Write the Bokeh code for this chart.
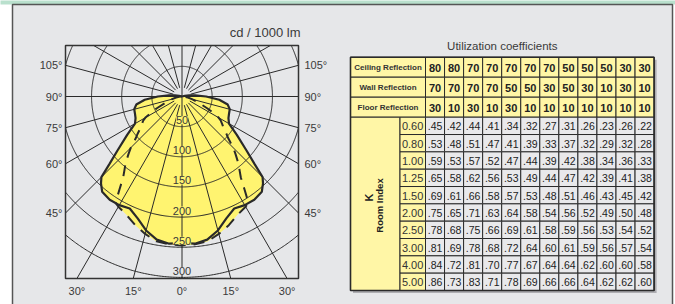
import numpy as np
from bokeh.plotting import figure
from bokeh.models import Range1d
from bokeh.core.properties import value
from bokeh.embed import file_html
from bokeh.resources import INLINE

# ---------------- data ----------------
intensity_ticks = [50, 100, 150, 200, 250, 300]
side_angle_labels = ["105°", "90°", "75°", "60°", "45°"]
side_angles = [105, 90, 75, 60, 45]
bottom_angle_labels = ["30°", "15°", "0°", "15°", "30°"]
bottom_angles = [-30, -15, 0, 15, 30]

# solid curve (plane A), angle from nadir in degrees -> cd/1000 lm
curve_a_angles = [0, 5, 10, 15, 20, 25, 30, 35, 40, 43, 45, 47, 50, 55, 60, 65, 70, 75, 80, 85, 90, 95, 100, 105, 110]
curve_a_cd = [243, 245, 241, 230, 215, 205, 208, 209, 206, 197, 189, 165, 140, 111, 90, 85, 83, 82, 77, 62, 40, 22, 12, 5, 0]
# dashed curve (plane B)
curve_b_angles = [0, 5, 10, 15, 20, 25, 30, 32, 34, 36, 38, 40, 43, 45, 48, 50, 53, 55, 58, 60, 63, 65, 70, 75, 80, 90, 95]
curve_b_cd = [247, 246, 244, 236, 227, 217, 211, 208, 185, 166, 155, 146, 130, 120, 103, 96, 86, 82, 76, 70, 55, 46, 28, 18, 10, 3, 0]

table_title = "Utilization coefficients"
header_labels = ["Ceiling Reflection", "Wall Reflection", "Floor Reflection"]
ceiling = [80, 80, 70, 70, 70, 70, 70, 50, 50, 50, 30, 30]
wall = [70, 70, 70, 70, 50, 50, 30, 50, 30, 10, 30, 10]
floor_ = [30, 10, 30, 10, 30, 10, 10, 10, 10, 10, 10, 10]
room_index = ["0.60", "0.80", "1.00", "1.25", "1.50", "2.00", "2.50", "3.00", "4.00", "5.00"]
coef_060 = [.45, .42, .44, .41, .34, .32, .27, .31, .26, .23, .26, .22]
coef_080 = [.53, .48, .51, .47, .41, .39, .33, .37, .32, .29, .32, .28]
coef_100 = [.59, .53, .57, .52, .47, .44, .39, .42, .38, .34, .36, .33]
coef_125 = [.65, .58, .62, .56, .53, .49, .44, .47, .42, .39, .41, .38]
coef_150 = [.69, .61, .66, .58, .57, .53, .48, .51, .46, .43, .45, .42]
coef_200 = [.75, .65, .71, .63, .64, .58, .54, .56, .52, .49, .50, .48]
coef_250 = [.78, .68, .75, .66, .69, .61, .58, .59, .56, .53, .54, .52]
coef_300 = [.81, .69, .78, .68, .72, .64, .60, .61, .59, .56, .57, .54]
coef_400 = [.84, .72, .81, .70, .77, .67, .64, .64, .62, .60, .60, .58]
coef_500 = [.86, .73, .83, .71, .78, .69, .66, .66, .64, .62, .62, .60]
coef_rows = [coef_060, coef_080, coef_100, coef_125, coef_150,
             coef_200, coef_250, coef_300, coef_400, coef_500]

# ---------------- style / layout ----------------
FONT = value("Liberation Sans")
DARK = "#2a2a2a"
TXT = "#3a3a3a"
PANEL = "#e6e7e9"
YEL_FILL = "#fff470"
YEL_CELL = "#fff6a6"
CELL = "#e9e9eb"

CX, CY, S = 181.5, 96.0, 0.603
BX0, BX1, BY0, BY1 = 65.0, 298.0, 45.0, 278.0

p = figure(width=675, height=304, x_range=Range1d(0, 675), y_range=Range1d(304, 0),
           output_backend="svg", toolbar_location=None, x_axis_type=None, y_axis_type=None,
           min_border=0, outline_line_color=None,
           background_fill_color="white", border_fill_color="white")
for g in p.grid:
    g.visible = False

# top strip and panel
p.quad(left=[-5], right=[680], top=[-5], bottom=[4], fill_color="#b9e0cd", line_color=None)
p.quad(left=[12], right=[672], top=[4], bottom=[320], fill_color=PANEL,
       line_color="#555555", line_width=1.5)


def polar_xy(angles, cds):
    a = np.radians(np.asarray(angles, float))
    r = np.asarray(cds, float) * S
    xl = CX - r * np.sin(a)
    yl = CY + r * np.cos(a)
    xr = CX + r * np.sin(a)
    yr = CY + r * np.cos(a)
    xs = np.concatenate([xl[::-1], xr[1:]])
    ys = np.concatenate([yl[::-1], yr[1:]])
    return xs, ys


ax, ay = polar_xy(curve_a_angles, curve_a_cd)
bx, by = polar_xy(curve_b_angles, curve_b_cd)
p.patch(bx, by, fill_color=YEL_FILL, line_color=None)
p.patch(ax, ay, fill_color=YEL_FILL, line_color=None)

# grid circles clipped to box
phi = np.radians(np.arange(0, 360.5, 0.5))
for cd in intensity_ticks:
    r = cd * S
    xs = CX + r * np.sin(phi)
    ys = CY + r * np.cos(phi)
    out = (xs < BX0) | (xs > BX1) | (ys < BY0) | (ys > BY1)
    xs = np.where(out, np.nan, xs)
    ys = np.where(out, np.nan, ys)
    p.line(xs, ys, line_color=DARK, line_width=1)

# rays every 15 degrees
for deg in range(0, 360, 15):
    a = np.radians(deg)
    dx, dy = np.sin(a), np.cos(a)
    ts = []
    if dx > 1e-9:
        ts.append((BX1 - CX) / dx)
    if dx < -1e-9:
        ts.append((BX0 - CX) / dx)
    if dy > 1e-9:
        ts.append((BY1 - CY) / dy)
    if dy < -1e-9:
        ts.append((BY0 - CY) / dy)
    t1 = min(ts)
    t0 = 0.0 if deg % 90 == 0 else 9.0
    p.line([CX + t0 * dx, CX + t1 * dx], [CY + t0 * dy, CY + t1 * dy],
           line_color=DARK, line_width=1)

# box
p.quad(left=[BX0], right=[BX1], top=[BY0], bottom=[BY1], fill_color=None,
       line_color="#333333", line_width=1.5)

# curves
p.line(bx, by, line_color=DARK, line_width=2.0, line_dash="11 8")
p.line(ax, ay, line_color=DARK, line_width=2.2)

# intensity labels
lab_bg = [YEL_FILL if v <= 250 else PANEL for v in intensity_ticks]
p.text(x=[CX] * len(intensity_ticks), y=[CY + v * S - 6.5 for v in intensity_ticks],
       text=[str(v) for v in intensity_ticks], text_font=FONT, text_font_size="11px",
       text_align="center", text_baseline="middle", text_color=TXT,
       background_fill_color=lab_bg, padding=0)

# angle labels
side_y = [CY - np.tan(np.radians(a - 90)) * (BX1 - CX) for a in side_angles]
p.text(x=[BX0 - 3] * len(side_angles), y=side_y, text=side_angle_labels, text_font=FONT,
       text_font_size="11px", text_align="right", text_baseline="middle", text_color=TXT)
p.text(x=[BX1 + 6] * len(side_angles), y=side_y, text=side_angle_labels, text_font=FONT,
       text_font_size="11px", text_align="left", text_baseline="middle", text_color=TXT)
bot_x = [CX + np.tan(np.radians(a)) * (BY1 - CY) for a in bottom_angles]
p.text(x=bot_x, y=[BY1 + 12] * len(bottom_angles), text=bottom_angle_labels, text_font=FONT,
       text_font_size="11px", text_align="center", text_baseline="middle", text_color=TXT)
p.text(x=[BX1 + 2], y=[32], text=["cd / 1000 lm"], text_font=FONT, text_font_size="13px",
       text_align="right", text_baseline="middle", text_color=TXT)

# ---------------- table ----------------
TX0, KX1, LX1, CW = 350.0, 399.3, 425.0, 19.05
TY0, HR, RH = 56.7, 20.0, 17.33
ncol = len(ceiling)
TX1 = LX1 + CW * ncol
HY1 = TY0 + HR * len(header_labels)
TY1 = HY1 + RH * len(room_index)

p.text(x=[(TX0 + TX1) / 2], y=[45], text=[table_title], text_font=FONT, text_font_size="11.5px",
       text_align="center", text_baseline="middle", text_color=TXT)

# shadow
p.quad(left=[TX0 + 2.5], right=[TX1 + 2.5], top=[TY0 + 2.5], bottom=[TY1 + 2.5],
       fill_color="#aeaeb2", line_color=None)

# header cells
hl, hr_, ht, hb = [], [], [], []
htx, hty, htt = [], [], []
header_values = [ceiling, wall, floor_]
for i, vals in enumerate(header_values):
    top = TY0 + i * HR
    hl.append(TX0); hr_.append(LX1); ht.append(top); hb.append(top + HR)
    for j, v in enumerate(vals):
        hl.append(LX1 + j * CW); hr_.append(LX1 + (j + 1) * CW); ht.append(top); hb.append(top + HR)
        htx.append(LX1 + (j + 0.5) * CW); hty.append(top + HR / 2 + 0.5); htt.append(str(v))
p.quad(left=hl, right=hr_, top=ht, bottom=hb, fill_color=YEL_CELL, line_color=DARK, line_width=1)

# body
bl, br, bt, bb = [], [], [], []
btx, bty, btt = [], [], []
for i, row in enumerate(coef_rows):
    top = HY1 + i * RH
    for j, v in enumerate(row):
        bl.append(LX1 + j * CW); br.append(LX1 + (j + 1) * CW); bt.append(top); bb.append(top + RH)
        btx.append(LX1 + (j + 0.5) * CW); bty.append(top + RH / 2 + 0.5)
        btt.append(("%.2f" % v)[1:])
p.quad(left=bl, right=br, top=bt, bottom=bb, fill_color=CELL, line_color=DARK, line_width=1)

# row labels
rl_top = [HY1 + i * RH for i in range(len(room_index))]
p.quad(left=[KX1] * len(room_index), right=[LX1] * len(room_index), top=rl_top,
       bottom=[t + RH for t in rl_top], fill_color=YEL_CELL, line_color=DARK, line_width=1)
p.quad(left=[TX0], right=[KX1], top=[HY1], bottom=[TY1], fill_color=YEL_CELL,
       line_color=DARK, line_width=1)

# outer border
p.quad(left=[TX0], right=[TX1], top=[TY0], bottom=[TY1], fill_color=None,
       line_color=DARK, line_width=1.6)

p.text(x=[(TX0 + LX1) / 2] * len(header_labels), y=[TY0 + (i + 0.5) * HR + 0.5 for i in range(len(header_labels))],
       text=header_labels, text_font=FONT, text_font_size="8px", text_font_style="bold",
       text_align="center", text_baseline="middle", text_color="#333333")
p.text(x=htx, y=hty, text=htt, text_font=FONT, text_font_size="11px", text_font_style="bold",
       text_align="center", text_baseline="middle", text_color="#222222")
p.text(x=btx, y=bty, text=btt, text_font=FONT, text_font_size="10.5px",
       text_align="center", text_baseline="middle", text_color="#222222")
p.text(x=[(KX1 + LX1) / 2] * len(room_index), y=[t + RH / 2 + 0.5 for t in rl_top], text=room_index,
       text_font=FONT, text_font_size="11px", text_align="center", text_baseline="middle",
       text_color="#333333")
p.text(x=[368.5], y=[197], text=["K"], angle=np.pi / 2, text_font=FONT, text_font_size="11px",
       text_font_style="bold", text_align="center", text_baseline="middle", text_color="#222222")
p.text(x=[378.5], y=[205], text=["Room Index"], angle=np.pi / 2, text_font=FONT, text_font_size="9.5px",
       text_font_style="bold", text_align="center", text_baseline="middle", text_color="#222222")

open("out.html", "w").write(file_html(p, INLINE))
